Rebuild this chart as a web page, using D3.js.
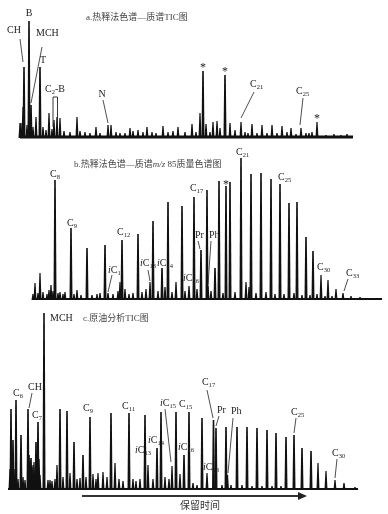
<!DOCTYPE html>
<html>
<head>
<meta charset="utf-8">
<script src="https://cdn.jsdelivr.net/npm/d3@7"></script>
<style>
  body { margin: 0; background: #fff; }
  svg { will-change: transform; }
  svg text { -webkit-font-smoothing: antialiased; }
</style>
</head>
<body>
<div class="chart"></div>
<script>
// peaks: [retention time (s), abundance]
const peaksA = [[200,14],[210,14],[230,30],[240,70],[270,12],[290,116],[310,32],[330,10],[360,20],[400,70],[430,10],[460,7],[490,24],[520,8],[540,17],[570,20],[600,19],[640,6],[700,5],[770,20],[800,6],[850,5],[900,4],[960,10],[1000,4],[1080,12],[1110,12],[1160,5],[1200,4],[1250,4],[1300,9],[1330,6],[1380,7],[1430,5],[1470,10],[1520,5],[1560,4],[1630,11],[1680,5],[1730,6],[1780,10],[1850,5],[1920,13],[1960,5],[2000,24],[2030,66],[2060,13],[2100,5],[2130,15],[2170,16],[2200,9],[2250,62],[2300,14],[2350,7],[2410,15],[2450,5],[2480,4],[2520,13],[2570,4],[2620,12],[2670,4],[2720,12],[2770,4],[2820,11],[2870,5],[2910,9],[2960,3],[3010,9],[3060,4],[3090,4],[3120,5],[3170,15],[3260,2],[3340,3],[3410,2],[3470,3]];

const peaksB = [[330,5],[350,16],[380,6],[400,26],[430,7],[470,5],[490,9],[510,14],[530,8],[550,119],[580,6],[600,7],[630,5],[650,7],[710,71],[740,5],[770,9],[810,4],[870,51],[920,4],[970,5],[1000,6],[1050,54],[1080,6],[1130,5],[1180,8],[1200,17],[1220,59],[1250,10],[1290,5],[1330,6],[1380,65],[1420,7],[1460,10],[1500,17],[1530,78],[1580,8],[1620,31],[1650,12],[1680,97],[1720,7],[1760,17],[1820,93],[1850,8],[1890,13],[1940,102],[1970,10],[2010,49],[2070,109],[2080,13],[2110,8],[2150,31],[2190,118],[2230,6],[2260,113],[2300,117],[2350,7],[2410,141],[2460,17],[2490,12],[2510,125],[2560,6],[2610,126],[2660,7],[2710,120],[2750,5],[2800,115],[2840,5],[2890,96],[2940,6],[2970,97],[3020,4],[3060,62],[3100,4],[3130,48],[3170,5],[3210,24],[3250,3],[3280,19],[3320,3],[3360,10],[3430,6],[3510,3],[3600,2],[3700,1]];

const peaksC = [[100,20],[110,80],[130,49],[140,20],[160,89],[180,10],[210,54],[230,12],[250,9],[280,80],[290,34],[300,28],[310,31],[320,22],[330,24],[340,27],[360,47],[380,67],[390,30],[400,14],[440,176],[480,9],[500,9],[520,8],[550,10],[570,24],[600,80],[630,12],[670,78],[700,16],[740,47],[770,10],[800,11],[830,34],[860,12],[900,72],[930,15],[960,10],[980,16],[1030,17],[1070,12],[1110,76],[1150,26],[1190,10],[1230,8],[1290,76],[1330,10],[1360,8],[1400,10],[1450,74],[1480,24],[1530,10],[1570,41],[1610,77],[1650,12],[1690,10],[1720,23],[1760,77],[1800,15],[1840,34],[1890,77],[1930,6],[1970,4],[2020,71],[2070,16],[2135,69],[2160,61],[2220,4],[2260,62],[2275,14],[2310,4],[2370,62],[2420,4],[2470,62],[2520,3],[2570,61],[2620,3],[2670,59],[2720,3],[2760,56],[2810,3],[2860,52],[2940,54],[3020,41],[3110,38],[3180,26],[3260,18],[3350,9],[3440,6],[3550,2]];

// run extents (s)
const runA = [200, 3530];
const runB = [330, 3820];
const runC = [80, 3580];

// peak labels: [text, retention time of the peak]
const labelsA = [["CH",240],["B",290],["MCH",310],["T",400],["C2-B",540],["N",1080],["*",2030],["*",2250],["C21",2410],["C25",3010],["*",3170]];
const labelsB = [["C8",550],["C9",710],["iC11",1080],["C12",1220],["iC13",1500],["iC14",1620],["iC16",1890],["C17",1940],["Pr",2010],["Ph",2080],["*",2260],["C21",2410],["C25",2800],["C30",3210],["C33",3430]];
const labelsC = [["C6",160],["CH",280],["C7",380],["MCH",440],["C9",900],["C11",1290],["iC13",1480],["iC14",1570],["iC15",1720],["C15",1890],["iC16",1840],["iC18",2070],["C17",2135],["Pr",2160],["Ph",2275],["C25",2940],["C30",3350]];

const titleA = "a.热释法色谱—质谱TIC图";
const titleC = "c.原油分析TIC图";
const axisText = "保留时间";

// label placement relative to peak top: dx, dy, anchor, leader [x1,y1,x2,y2]
const placeA = [
  {dx:-17, dy:-34, l:[-4,-28,-1,-5]},
  {dx:0, dy:-5, a:"middle"},
  {dx:5, dy:-69, l:[11,-58,0,-2]},
  {dx:3, dy:-4, a:"middle"},
  {dx:1, dy:-28, a:"middle"},
  {dx:-6, dy:-28, a:"middle", l:[-5,-25,0,-2]},
  {dx:0, dy:0, a:"middle"},
  {dx:0, dy:0, a:"middle"},
  {dx:9, dy:-35, l:[13,-30,0,-4]},
  {dx:-5, dy:-34, l:[2,-30,-1,-3]},
  {dx:0, dy:0, a:"middle"}
];
const placeB = [
  {dx:-5, dy:-3},
  {dx:-4, dy:-2},
  {dx:0, dy:-20, l:[4,-18,0,-1]},
  {dx:-5, dy:-5},
  {dx:-10, dy:-16, l:[-2,-12,0,-1]},
  {dx:-5, dy:-2},
  {dx:-6, dy:-5},
  {dx:-4, dy:-6},
  {dx:-6, dy:-12, l:[-3,-9,-1,-1]},
  {dx:1, dy:-48, l:[3,-45,0,-1]},
  {dx:0, dy:2, a:"middle"},
  {dx:-5, dy:-3},
  {dx:-2, dy:-4},
  {dx:-4, dy:-5},
  {dx:3, dy:-17, l:[5,-14,1,-2]}
];
const placeC = [
  {dx:-3, dy:-4},
  {dx:0, dy:-19, l:[4,-16,1,-1]},
  {dx:-6, dy:-4},
  {dx:6, dy:8},
  {dx:-7, dy:-6},
  {dx:-7, dy:-4},
  {dx:-13, dy:-12},
  {dx:-9, dy:-5},
  {dx:-12, dy:-60, l:[-7,-57,-1,-4]},
  {dx:-10, dy:-5},
  {dx:-6, dy:-5},
  {dx:-4, dy:-3},
  {dx:-11.5, dy:-35, l:[-6.5,-30,-0.5,-2]},
  {dx:1, dy:-15, l:[3,-12,0,-2]},
  {dx:3.5, dy:-61, l:[5.5,-57,0.5,-2]},
  {dx:-3, dy:-20, l:[2,-17,0,-2]},
  {dx:-3, dy:-24, l:[2,-21,0,-2]}
];

const width = 388, height = 514;
const serif = "'Liberation Serif', 'Noto Sans CJK SC', serif";

const svg = d3.select(".chart").append("svg")
    .attr("width", width)
    .attr("height", height)
    .style("display", "block");

svg.append("rect").attr("width", width).attr("height", height).attr("fill", "#fff");

// shared retention-time scale
const x = d3.scaleLinear().domain([0, 3880]).range([0, 388]);

// one abundance scale per trace
const yA = d3.scaleLinear().domain([0, 120]).range([137, 17]);
const yB = d3.scaleLinear().domain([0, 160]).range([299, 139]);
const yC = d3.scaleLinear().domain([0, 180]).range([489, 309]);

function trace(peaks, run, y, bw) {
    const g = svg.append("g");
    const base = y(0);
    g.append("line")
        .attr("x1", x(run[0])).attr("x2", x(run[1]))
        .attr("y1", base).attr("y2", base)
        .attr("stroke", "#111")
        .attr("stroke-width", bw);
    g.selectAll(".peak")
        .data(peaks)
        .join("path")
        .attr("class", "peak")
        .attr("fill", "#111")
        .attr("d", d => {
            const px = x(d[0]), py = y(d[1]);
            const w = d[1] > 30 ? 0.8 : 0.6;
            return `M${px - 1.5},${base + 1}L${px - w},${py}L${px + w},${py}L${px + 1.5},${base + 1}Z`;
        });
    return g;
}

function labels(g, list, place, peaks, y) {
    list.forEach(([txt, rt], i) => {
        const p = place[i];
        const pk = peaks.find(d => d[0] === rt);
        const px = x(rt), py = y(pk[1]);
        const t = g.append("text")
            .attr("x", px + p.dx)
            .attr("y", py + p.dy)
            .attr("text-anchor", p.a || "start")
            .attr("font-family", serif)
            .attr("font-size", txt === "*" ? 12 : 10)
            .attr("fill", "#222");
        const m = txt.match(/^(i?)C(\d+)(.*)$/);
        if (m) {
            if (m[1]) t.append("tspan").attr("font-style", "italic").text("i");
            t.append("tspan").text("C");
            t.append("tspan").attr("font-size", 6.5).attr("dy", 2).text(m[2]);
            if (m[3]) t.append("tspan").attr("dy", -2).text(m[3]);
        } else {
            t.text(txt);
        }
        if (p.l) {
            g.append("line")
                .attr("x1", px + p.l[0]).attr("y1", py + p.l[1])
                .attr("x2", px + p.l[2]).attr("y2", py + p.l[3])
                .attr("stroke", "#222")
                .attr("stroke-width", 0.8);
        }
    });
}

// panel a
const gA = trace(peaksA, runA, yA, 2.8);
labels(gA, labelsA, placeA, peaksA, yA);
// C2-B bracket
gA.append("path")
    .attr("fill", "none")
    .attr("stroke", "#222")
    .attr("stroke-width", 0.9)
    .attr("d", `M${x(530)},${yA(10)}V${yA(40)}H${x(575)}V${yA(10)}`);

// panel b
const gB = trace(peaksB, runB, yB, 2.2);
labels(gB, labelsB, placeB, peaksB, yB);

// panel c
const gC = trace(peaksC, runC, yC, 2.2);
labels(gC, labelsC, placeC, peaksC, yC);

// titles
svg.append("text")
    .attr("x", 86).attr("y", 20)
    .attr("font-family", serif).attr("font-size", 9).attr("fill", "#444")
    .text(titleA);

const tb = svg.append("text")
    .attr("x", 74).attr("y", 167)
    .attr("font-family", serif).attr("font-size", 9).attr("fill", "#444");
tb.append("tspan").text("b.热释法色谱—质谱");
tb.append("tspan").attr("font-style", "italic").text("m/z");
tb.append("tspan").text(" 85质量色谱图");

svg.append("text")
    .attr("x", 83).attr("y", 321)
    .attr("font-family", serif).attr("font-size", 9).attr("fill", "#444")
    .text(titleC);

// retention time arrow
const ay = 496;
svg.append("line")
    .attr("x1", x(820)).attr("x2", x(2990))
    .attr("y1", ay).attr("y2", ay)
    .attr("stroke", "#333")
    .attr("stroke-width", 1.8);
svg.append("path")
    .attr("fill", "#222")
    .attr("d", `M${x(2980)},${ay - 4}L${x(3070)},${ay}L${x(2980)},${ay + 4}Z`);
svg.append("text")
    .attr("x", 200).attr("y", 509)
    .attr("text-anchor", "middle")
    .attr("font-family", serif).attr("font-size", 10).attr("fill", "#333")
    .text(axisText);
</script>
</body>
</html>
